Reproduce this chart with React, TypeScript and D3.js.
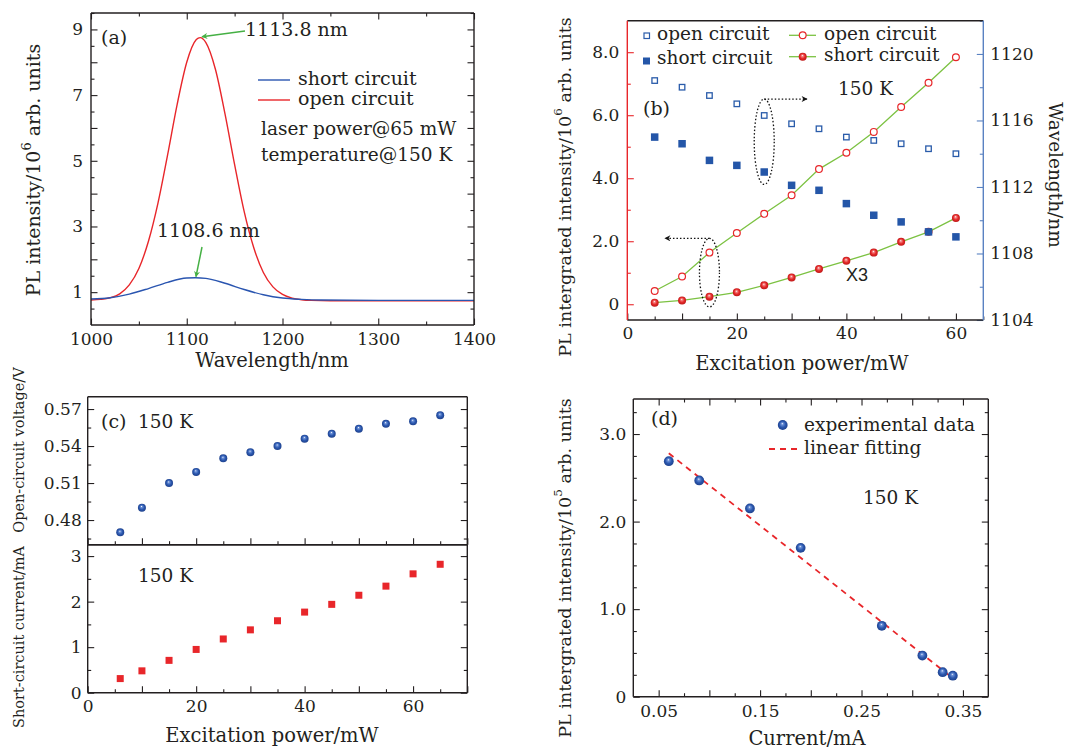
import React, { useEffect, useRef } from 'react';
import * as d3 from 'd3';

// (a) PL spectra, 65 mW, 150 K
const specOpenX = [1000, 1010, 1020, 1030, 1040, 1050, 1060, 1070, 1080, 1090, 1100, 1110, 1114, 1120, 1130, 1140, 1150, 1160, 1170, 1180, 1190, 1200, 1210, 1220, 1230, 1250, 1300, 1350, 1400];
const specOpenY = [0.76, 0.78, 0.83, 0.95, 1.22, 1.72, 2.55, 3.72, 5.18, 6.72, 8.0, 8.69, 8.75, 8.6, 7.78, 6.42, 4.88, 3.45, 2.35, 1.6, 1.16, 0.93, 0.82, 0.77, 0.75, 0.74, 0.74, 0.74, 0.74];
const specShortX = [1000, 1020, 1040, 1060, 1080, 1100, 1109, 1120, 1140, 1160, 1180, 1200, 1220, 1240, 1300, 1400];
const specShortY = [0.79, 0.83, 0.94, 1.11, 1.3, 1.43, 1.44, 1.42, 1.27, 1.08, 0.92, 0.82, 0.78, 0.76, 0.75, 0.75];
const peakOpen = { nm: 1113.8, label: '1113.8 nm' };
const peakShort = { nm: 1108.6, label: '1108.6 nm' };

// (b) integrated intensity and peak wavelength vs excitation power
const powerB = [5, 10, 15, 20, 25, 30, 35, 40, 45, 50, 55, 60];
const wlOpen = [1118.4, 1118.0, 1117.5, 1117.0, 1116.3, 1115.8, 1115.5, 1115.0, 1114.8, 1114.6, 1114.3, 1114.0];
const wlShort = [1115.0, 1114.6, 1113.6, 1113.3, 1112.9, 1112.1, 1111.8, 1111.0, 1110.3, 1109.9, 1109.3, 1109.0];
const intOpen = [0.42, 0.88, 1.64, 2.26, 2.87, 3.46, 4.29, 4.81, 5.47, 6.26, 7.03, 7.84];
const intShort = [0.05, 0.12, 0.24, 0.38, 0.6, 0.85, 1.12, 1.38, 1.64, 1.98, 2.3, 2.74];

// (c) Voc and Isc vs excitation power
const powerC = [6, 10, 15, 20, 25, 30, 35, 40, 45, 50, 55, 60, 65];
const voc = [0.47, 0.49, 0.51, 0.519, 0.53, 0.535, 0.54, 0.546, 0.55, 0.554, 0.558, 0.56, 0.565];
const isc = [0.31, 0.48, 0.71, 0.95, 1.18, 1.38, 1.58, 1.77, 1.94, 2.14, 2.34, 2.61, 2.82];

// (d) PL intensity vs current
const currentD = [0.06, 0.09, 0.14, 0.19, 0.27, 0.31, 0.33, 0.34];
const plD = [2.69, 2.47, 2.15, 1.7, 0.81, 0.47, 0.28, 0.24];
const fitX = [0.06, 0.34];
const fitY = [2.78, 0.21];

const FONT = 'DejaVu Serif';
const INK = '#231f20';
const RED = '#e8262a';
const BLUE = '#2456a8';
const GREEN = '#7cc242';
const AXBLUE = '#5a82c2';

function ticks(g, orient, scale, at, major, minor, fmt, color = INK, fs = 17, pad = 8) {
  const make = { bottom: d3.axisBottom, top: d3.axisTop, left: d3.axisLeft, right: d3.axisRight }[orient];
  const tr = orient === 'bottom' || orient === 'top' ? `translate(0,${at})` : `translate(${at},0)`;
  if (minor && minor.length) {
    const m = g.append('g').attr('transform', tr)
      .call(make(scale).tickValues(minor).tickSize(-3.5).tickFormat(() => ''));
    m.select('.domain').remove();
    m.selectAll('line').attr('stroke', color).attr('stroke-width', 1.1);
  }
  const a = g.append('g').attr('transform', tr)
    .call(make(scale).tickValues(major).tickSize(-6.5).tickPadding(pad).tickFormat(fmt || (() => '')));
  a.select('.domain').remove();
  a.selectAll('line').attr('stroke', color).attr('stroke-width', 1.1);
  a.selectAll('text').attr('font-family', FONT).attr('font-size', fs).attr('fill', INK);
  return a;
}

function border(g, x, y, c = {}) {
  const [x0, x1] = x.range();
  const [y0, y1] = y.range();
  const seg = (a, b, d, e, col) => g.append('line').attr('x1', a).attr('y1', b).attr('x2', d).attr('y2', e)
    .attr('stroke', col).attr('stroke-width', 1.4);
  seg(x0, y1, x1, y1, c.top || INK);
  seg(x0, y0, x1, y0, c.bottom || INK);
  seg(x0, y0, x0, y1, c.left || INK);
  seg(x1, y0, x1, y1, c.right || INK);
}

function txt(g, x, y, s, fs = 18.5, anchor = 'start', family = FONT) {
  return g.append('text').attr('x', x).attr('y', y).attr('font-family', family)
    .attr('font-size', fs).attr('fill', INK).attr('text-anchor', anchor).text(s);
}

function vlabel(g, cx, cy, pre, sup, post, fs, rot = -90) {
  const t = g.append('text').attr('transform', `translate(${cx},${cy}) rotate(${rot})`)
    .attr('text-anchor', 'middle').attr('dominant-baseline', 'central')
    .attr('font-family', FONT).attr('font-size', fs).attr('fill', INK);
  t.append('tspan').text(pre);
  if (sup) {
    t.append('tspan').attr('dy', -fs * 0.38).attr('font-size', fs * 0.68).text(sup);
    t.append('tspan').attr('dy', fs * 0.38).text(post);
  }
  return t;
}

const range = (a, b, s) => d3.range(a, b + s / 2, s).map((v) => +v.toFixed(4));

export default function App() {
  const ref = useRef(null);

  useEffect(() => {
    const svg = d3.select(ref.current);
    svg.selectAll('*').remove();
    svg.append('rect').attr('width', 1081).attr('height', 749).attr('fill', '#fff');

    const defs = svg.append('defs');
    const sphere = (id, c0, c1, c2) => {
      const gr = defs.append('radialGradient').attr('id', id).attr('cx', '50%').attr('cy', '50%').attr('r', '55%').attr('fx', '45%').attr('fy', '35%');
      gr.append('stop').attr('offset', '0%').attr('stop-color', '#ffffff');
      gr.append('stop').attr('offset', '18%').attr('stop-color', c0);
      gr.append('stop').attr('offset', '55%').attr('stop-color', c1);
      gr.append('stop').attr('offset', '100%').attr('stop-color', c2);
    };
    sphere('sphB', '#6f93d8', '#2c59b0', '#1b3c86');
    sphere('sphR', '#f58a8a', '#e52b2b', '#b81414');
    const arrow = (id, col) => defs.append('marker').attr('id', id).attr('viewBox', '0 0 10 10')
      .attr('refX', 9).attr('refY', 5).attr('markerWidth', 9).attr('markerHeight', 6)
      .attr('orient', 'auto').attr('markerUnits', 'userSpaceOnUse')
      .append('path').attr('d', 'M0,0 L10,5 L0,10 L3,5 Z').attr('fill', col);
    arrow('arrG', '#45b044');
    arrow('arrK', '#111');

    // ---------- (a)
    const ga = svg.append('g');
    const xA = d3.scaleLinear([1000, 1400], [91, 474]);
    const yA = d3.scaleLinear([0, 9.5], [325, 13]);
    ticks(ga, 'bottom', xA, 325, range(1000, 1400, 100), range(1050, 1350, 100), (d) => d);
    ticks(ga, 'top', xA, 13, range(1000, 1400, 100), range(1050, 1350, 100), null);
    ticks(ga, 'left', yA, 91, range(1, 9, 1), range(0.5, 9.5, 1), (d) => (d % 2 === 1 ? d : ''));
    ticks(ga, 'right', yA, 474, range(1, 9, 1), range(0.5, 9.5, 1), null);
    const lineA = d3.line().x((d) => xA(d[0])).y((d) => yA(d[1])).curve(d3.curveMonotoneX);
    ga.append('path').attr('d', lineA(specOpenX.map((v, i) => [v, specOpenY[i]])))
      .attr('fill', 'none').attr('stroke', RED).attr('stroke-width', 1.4);
    ga.append('path').attr('d', lineA(specShortX.map((v, i) => [v, specShortY[i]])))
      .attr('fill', 'none').attr('stroke', '#2a55b0').attr('stroke-width', 1.4);
    border(ga, xA, yA);
    txt(ga, 101, 44, '(a)', 19);
    txt(ga, 245, 36, peakOpen.label, 19);
    ga.append('line').attr('x1', 245).attr('y1', 31).attr('x2', xA(peakOpen.nm) + 2).attr('y2', yA(8.75) - 1)
      .attr('stroke', '#45b044').attr('stroke-width', 1.5).attr('marker-end', 'url(#arrG)');
    txt(ga, 157, 237, peakShort.label, 19);
    ga.append('line').attr('x1', 202).attr('y1', 247).attr('x2', xA(peakShort.nm) + 1).attr('y2', yA(1.44) - 1)
      .attr('stroke', '#45b044').attr('stroke-width', 1.5).attr('marker-end', 'url(#arrG)');
    ga.append('line').attr('x1', 258).attr('x2', 290).attr('y1', 80).attr('y2', 80).attr('stroke', '#2a55b0').attr('stroke-width', 1.4);
    ga.append('line').attr('x1', 258).attr('x2', 290).attr('y1', 100).attr('y2', 100).attr('stroke', RED).attr('stroke-width', 1.4);
    txt(ga, 298, 85, 'short circuit', 19);
    txt(ga, 298, 105, 'open circuit', 19);
    txt(ga, 261, 135, 'laser power@65 mW', 18.5);
    txt(ga, 261, 161, 'temperature@150 K', 18.5);
    vlabel(ga, 33, 170, 'PL intensity/10', '6', ' arb. units', 19);
    txt(ga, 272, 367, 'Wavelength/nm', 19.5, 'middle');

    // ---------- (b)
    const gb = svg.append('g');
    const xB = d3.scaleLinear([0, 65], [627.3, 983.3]);
    const yBL = d3.scaleLinear([-0.5, 9], [320, 20.7]);
    const yBR = d3.scaleLinear([1104, 1122], [320, 20.7]);
    ticks(gb, 'bottom', xB, 320, range(0, 60, 10), range(5, 65, 10), (d) => (d % 20 === 0 ? d : ''), INK, 17, 7);
    ticks(gb, 'left', yBL, 627.3, range(0, 8, 2), range(1, 7, 2), (d) => (d === 0 ? '0' : d.toFixed(1)), RED);
    ticks(gb, 'right', yBR, 983.3, range(1104, 1120, 4), range(1106, 1122, 4), (d) => d, AXBLUE, 17, 7);
    border(gb, xB, yBL, { left: RED, right: AXBLUE });
    const lineB = d3.line().x((d, i) => xB(powerB[i])).y((d) => yBL(d));
    gb.append('path').attr('d', lineB(intOpen)).attr('fill', 'none').attr('stroke', GREEN).attr('stroke-width', 1.3);
    gb.append('path').attr('d', lineB(intShort)).attr('fill', 'none').attr('stroke', GREEN).attr('stroke-width', 1.3);
    gb.selectAll('.co').data(intOpen).enter().append('circle')
      .attr('cx', (d, i) => xB(powerB[i])).attr('cy', (d) => yBL(d)).attr('r', 3.4)
      .attr('fill', '#fff').attr('stroke', RED).attr('stroke-width', 1.2);
    gb.selectAll('.cs').data(intShort).enter().append('circle')
      .attr('cx', (d, i) => xB(powerB[i])).attr('cy', (d) => yBL(d)).attr('r', 4)
      .attr('fill', 'url(#sphR)');
    gb.selectAll('.so').data(wlOpen).enter().append('rect')
      .attr('x', (d, i) => xB(powerB[i]) - 2.75).attr('y', (d) => yBR(d) - 2.75).attr('width', 5.5).attr('height', 5.5)
      .attr('fill', '#fff').attr('stroke', '#2a5caa').attr('stroke-width', 1.3);
    gb.selectAll('.ss').data(wlShort).enter().append('rect')
      .attr('x', (d, i) => xB(powerB[i]) - 3.75).attr('y', (d) => yBR(d) - 3.75).attr('width', 7.5).attr('height', 7.5)
      .attr('fill', BLUE);
    // legend
    gb.append('rect').attr('x', 644).attr('y', 33).attr('width', 5.5).attr('height', 5.5).attr('fill', '#fff').attr('stroke', '#2a5caa').attr('stroke-width', 1.2);
    gb.append('rect').attr('x', 643).attr('y', 57.5).attr('width', 7).attr('height', 7).attr('fill', BLUE);
    txt(gb, 657, 40, 'open circuit', 18.5);
    txt(gb, 657, 64, 'short circuit', 18.5);
    gb.append('line').attr('x1', 789).attr('x2', 816).attr('y1', 35.3).attr('y2', 35.3).attr('stroke', GREEN).attr('stroke-width', 1.3);
    gb.append('circle').attr('cx', 802.7).attr('cy', 35.3).attr('r', 3.4).attr('fill', '#fff').attr('stroke', RED).attr('stroke-width', 1.2);
    gb.append('line').attr('x1', 789).attr('x2', 816).attr('y1', 56.7).attr('y2', 56.7).attr('stroke', GREEN).attr('stroke-width', 1.3);
    gb.append('circle').attr('cx', 802.7).attr('cy', 56.7).attr('r', 4).attr('fill', 'url(#sphR)');
    txt(gb, 824, 40, 'open circuit', 18.5);
    txt(gb, 824, 61, 'short circuit', 18.5);
    txt(gb, 643, 115, '(b)', 19);
    txt(gb, 838, 95, '150 K', 18.5);
    txt(gb, 846, 281, 'X3', 18, 'start', 'Liberation Sans');
    // dotted guides
    const e1x = xB(25), e1y = (yBR(wlOpen[4]) + yBR(wlShort[4])) / 2 - 2;
    gb.append('ellipse').attr('cx', e1x).attr('cy', e1y).attr('rx', 10).attr('ry', 42.7)
      .attr('fill', 'none').attr('stroke', '#111').attr('stroke-width', 1.3).attr('stroke-dasharray', '1.5,2');
    gb.append('line').attr('x1', e1x).attr('y1', e1y - 42.7).attr('x2', 807).attr('y2', e1y - 42.7)
      .attr('stroke', '#111').attr('stroke-width', 1.3).attr('stroke-dasharray', '1.5,2').attr('marker-end', 'url(#arrK)');
    const e2x = xB(15), e2y = (yBL(intOpen[2]) + yBL(intShort[2])) / 2 - 2;
    gb.append('ellipse').attr('cx', e2x).attr('cy', e2y).attr('rx', 10).attr('ry', 34.3)
      .attr('fill', 'none').attr('stroke', '#111').attr('stroke-width', 1.3).attr('stroke-dasharray', '1.5,2');
    gb.append('line').attr('x1', e2x).attr('y1', e2y - 34.3).attr('x2', 665).attr('y2', e2y - 34.3)
      .attr('stroke', '#111').attr('stroke-width', 1.3).attr('stroke-dasharray', '1.5,2').attr('marker-end', 'url(#arrK)');
    vlabel(gb, 565, 187, 'PL intergrated intensity/10', '6', ' arb. units', 17.5);
    vlabel(gb, 1056, 175, 'Wavelength/nm', null, null, 18.5, 90);
    txt(gb, 802, 370, 'Excitation power/mW', 19.5, 'middle');

    // ---------- (c)
    const gc = svg.append('g');
    const xC = d3.scaleLinear([0, 70], [87.7, 467.3]);
    const yCU = d3.scaleLinear([0.46, 0.58], [544.7, 396.7]);
    const yCL = d3.scaleLinear([0, 3.25], [692.7, 544.7]);
    ticks(gc, 'bottom', xC, 692.7, range(0, 70, 10), range(5, 65, 10), (d) => (d % 20 === 0 ? d : ''), INK, 17, 7);
    ticks(gc, 'bottom', xC, 544.7, range(0, 70, 10), range(5, 65, 10), null);
    ticks(gc, 'left', yCU, 87.7, [0.48, 0.51, 0.54, 0.57], [0.465, 0.495, 0.525, 0.555], (d) => d.toFixed(2), INK, 17, 6);
    ticks(gc, 'right', yCU, 467.3, [0.48, 0.51, 0.54, 0.57], [0.465, 0.495, 0.525, 0.555], null);
    ticks(gc, 'left', yCL, 87.7, [0, 1, 2, 3], [0.5, 1.5, 2.5], (d) => d, INK, 17, 6);
    ticks(gc, 'right', yCL, 467.3, [0, 1, 2, 3], [0.5, 1.5, 2.5], null);
    border(gc, xC, yCU);
    border(gc, xC, yCL);
    gc.selectAll('.v').data(voc).enter().append('circle')
      .attr('cx', (d, i) => xC(powerC[i])).attr('cy', (d) => yCU(d)).attr('r', 4).attr('fill', 'url(#sphB)');
    gc.selectAll('.i').data(isc).enter().append('rect')
      .attr('x', (d, i) => xC(powerC[i]) - 3.5).attr('y', (d) => yCL(d) - 3.5).attr('width', 7).attr('height', 7).attr('fill', RED);
    txt(gc, 101, 428, '(c)', 19);
    txt(gc, 138, 428, '150 K', 18.5);
    txt(gc, 138, 582, '150 K', 18.5);
    vlabel(gc, 19, 450, 'Open-circuit voltage/V', null, null, 14.5);
    vlabel(gc, 19, 637, 'Short-circuit current/mA', null, null, 14.5);
    txt(gc, 272, 742, 'Excitation power/mW', 19.5, 'middle');

    // ---------- (d)
    const gd = svg.append('g');
    const xD = d3.scaleLinear([0.025, 0.375], [633.3, 988.3]);
    const yD = d3.scaleLinear([0, 3.4], [696.7, 399]);
    const xMaj = [0.05, 0.1, 0.15, 0.2, 0.25, 0.3, 0.35];
    const xMin = [0.075, 0.125, 0.175, 0.225, 0.275, 0.325];
    ticks(gd, 'bottom', xD, 696.7, xMaj, xMin, (d) => (Math.round(d * 100) % 10 === 5 ? d.toFixed(2) : ''), INK, 17, 8);
    ticks(gd, 'top', xD, 399, xMaj, xMin, null);
    const yMin = range(0.25, 3.25, 0.25).filter((v) => v % 1 !== 0);
    ticks(gd, 'left', yD, 633.3, [0, 1, 2, 3], yMin, (d) => (d === 0 ? '0' : d.toFixed(1)), INK, 17, 7);
    ticks(gd, 'right', yD, 988.3, [0, 1, 2, 3], yMin, null);
    border(gd, xD, yD);
    gd.append('path').attr('d', d3.line().x((d) => xD(d)).y((d, i) => yD(fitY[i]))(fitX))
      .attr('fill', 'none').attr('stroke', RED).attr('stroke-width', 1.8).attr('stroke-dasharray', '6,5');
    gd.selectAll('.p').data(plD).enter().append('circle')
      .attr('cx', (d, i) => xD(currentD[i])).attr('cy', (d) => yD(d)).attr('r', 4.9).attr('fill', 'url(#sphB)');
    gd.append('circle').attr('cx', 782.7).attr('cy', 425).attr('r', 4.9).attr('fill', 'url(#sphB)');
    gd.append('line').attr('x1', 769).attr('x2', 797).attr('y1', 449).attr('y2', 449)
      .attr('stroke', RED).attr('stroke-width', 1.8).attr('stroke-dasharray', '6,5');
    txt(gd, 804, 431, 'experimental data', 18.5);
    txt(gd, 804, 454, 'linear fitting', 18.5);
    txt(gd, 651, 425, '(d)', 19);
    txt(gd, 863, 504, '150 K', 18.5);
    vlabel(gd, 565, 568, 'PL intergrated intensity/10', '5', ' arb. units', 17.5);
    txt(gd, 807, 745, 'Current/mA', 19.5, 'middle');
  }, []);

  return (
    <svg ref={ref} width={1081} height={749}
      style={{ position: 'absolute', left: 0, top: 0, display: 'block' }} />
  );
}
